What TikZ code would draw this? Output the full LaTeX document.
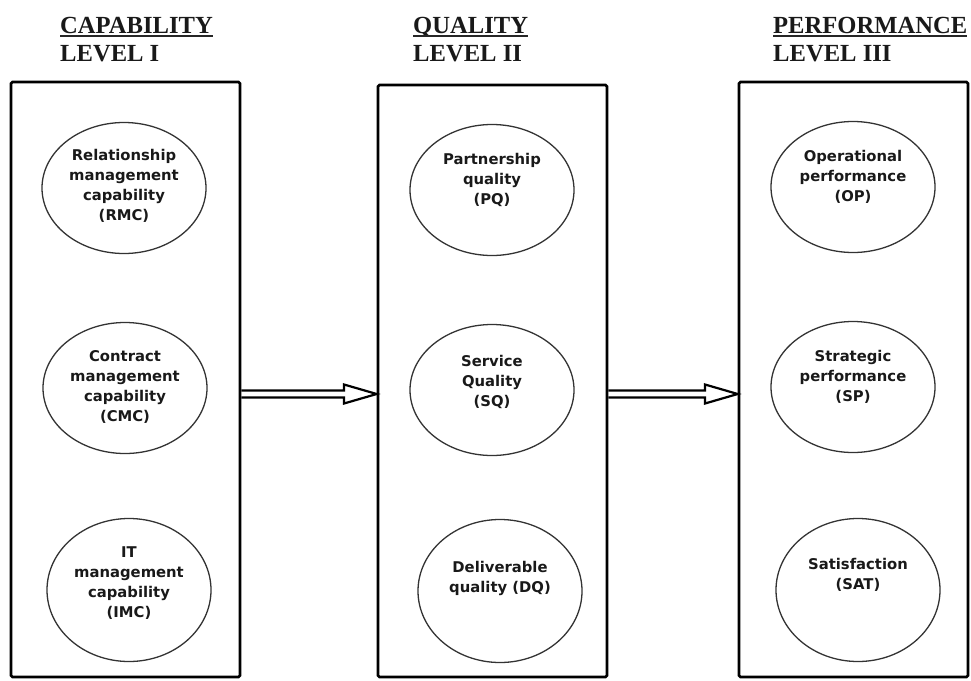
\documentclass[tikz,border=0pt]{standalone}
\usepackage{fontspec}
\setmainfont{Liberation Serif}
\newfontfamily\lblfont{DejaVu Sans}
\usetikzlibrary{shapes.geometric,calc}
\begin{document}
\begin{tikzpicture}[x=1pt,y=-1pt,
 panel/.style={draw, line width=2.6pt, rounded corners=1.5pt, inner sep=0, minimum width=229pt},
 oval/.style={ellipse, draw=black!80, line width=1.3pt, minimum width=164pt, minimum height=131pt, inner sep=0},
 tall/.style={minimum height=143pt},
 lbl/.style={font=\lblfont\bfseries\fontsize{14.8}{20}\selectfont, align=center, text=black!90, inner sep=0},
 hdr/.style={font=\bfseries\fontsize{24.6}{28}\selectfont, anchor=base west, inner sep=0, text=black!90},
 uline/.style={line width=1.6pt, black!85},
 flow/.style={line width=2.2pt, line join=miter}]
\useasboundingbox (0,0) rectangle (971,680);

% headers
\node[hdr] (h1) at (60,33) {CAPABILITY};
\node[hdr] (h1b) at (60,61) {LEVEL I};
\node[hdr] (h2) at (413,33) {QUALITY};
\node[hdr] (h2b) at (413,61) {LEVEL II};
\node[hdr] (h3) at (773,33) {PERFORMANCE};
\node[hdr] (h3b) at (773,61) {LEVEL III};
\foreach \h in {h1,h2,h3}
  \draw[uline] ([yshift=-2.8pt]\h.base west) -- ([yshift=-2.8pt]\h.base east);

% panels
\node[panel, minimum height=595pt] (box1) at (125.5,379.5) {};
\node[panel, minimum height=592pt] (box2) at (492.5,381) {};
\node[panel, minimum height=595pt] (box3) at (853.5,379.5) {};

% ellipses
\node[oval] (rmc) at (124,188) {};
\node[oval] (cmc) at (125,388) {};
\node[oval, tall] (imc) at (129,590) {};
\node[oval] (pq) at (492,190) {};
\node[oval] (sq) at (492,390) {};
\node[oval, tall] (dq) at (500,591) {};
\node[oval] (op) at (853,187) {};
\node[oval] (sp) at (853,387) {};
\node[oval, tall] (sat) at (858,590) {};

% labels
\node[lbl] (rmct) at (124,186) {Relationship\\management\\capability\\(RMC)};
\node[lbl] (cmct) at (125,387) {Contract\\management\\capability\\(CMC)};
\node[lbl] (imct) at (129,583) {IT\\management\\capability\\(IMC)};
\node[lbl] (pqt) at (492,180) {Partnership\\quality\\(PQ)};
\node[lbl] (sqt) at (492,382) {Service\\Quality\\(SQ)};
\node[lbl] (dqt) at (500,578) {Deliverable\\quality (DQ)};
\node[lbl] (opt) at (853,177) {Operational\\performance\\(OP)};
\node[lbl] (spt) at (853,377) {Strategic\\performance\\(SP)};
\node[lbl] (satt) at (858,575) {Satisfaction\\(SAT)};

% hollow double arrows
\draw[flow] (box1.east |- 0,390.5) -- (344,390.5) -- (344,384.5) -- (box2.west |- 0,394)
   -- (344,403.5) -- (344,397.5) -- (box1.east |- 0,397.5);
\draw[flow] (box2.east |- 0,390.5) -- (705,390.5) -- (705,384.5) -- (box3.west |- 0,394)
   -- (705,403.5) -- (705,397.5) -- (box2.east |- 0,397.5);
\end{tikzpicture}
\end{document}
